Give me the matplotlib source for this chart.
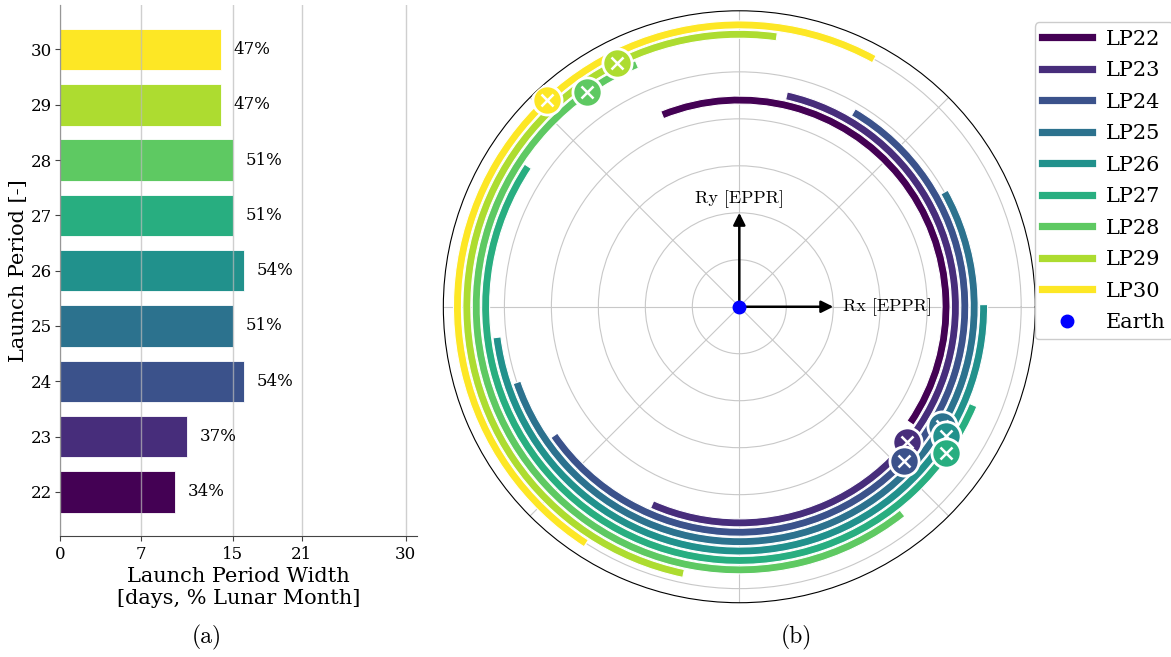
import numpy as np
import matplotlib
matplotlib.use("Agg")
import matplotlib.pyplot as plt
from matplotlib.lines import Line2D

# ==========================================
# DATA
# ==========================================
launch_periods = [22, 23, 24, 25, 26, 27, 28, 29, 30]
lp_width_days = [10, 11, 16, 15, 16, 15, 15, 14, 14]
lunar_month = 29.53
x_ticks = [0, 7, 15, 21, 30]

# polar arcs (degrees, counter-clockwise from start to end)
arc_radius = [4.4, 4.6, 4.8, 5.0, 5.2, 5.4, 5.6, 5.8, 6.0]
arc_start_deg = [-34.2, -113.8, -145.2, -161.2, -172.8, 146.4, 112.9, 82.1, 61.4]
arc_end_deg = [111.9, 77.4, 59.6, 29.2, 0.5, 337.2, 308.3, 258.2, 237.1]
marker_deg = [None, -38.9, -43.1, -30.5, -32.0, -35.3, 125.3, 116.7, 132.9]

colors = plt.cm.viridis(np.linspace(0, 1, len(launch_periods)))

plt.rcParams['font.family'] = 'DejaVu Serif'

fig = plt.figure(figsize=(11.71, 6.57), dpi=100)

# ==========================================
# (a) BAR CHART
# ==========================================
ax1 = fig.add_axes([0.0512, 0.184, 0.305, 0.808])
ax1.barh(launch_periods, lp_width_days, height=0.75, color=colors,
         edgecolor='white', linewidth=0.6)
for lp, d in zip(launch_periods, lp_width_days):
    ax1.text(d + 1.1, lp, f"{round(100 * d / lunar_month)}%",
             ha='left', va='center', fontsize=12)
ax1.set_xlim(0, 31)
ax1.set_ylim(21.2, 30.8)
ax1.set_xticks(x_ticks)
ax1.set_yticks(launch_periods)
ax1.tick_params(labelsize=12, color='#444444')
ax1.tick_params(axis='y', pad=2)
ax1.grid(axis='x', color='#bbbbbb', alpha=0.7, lw=1)
ax1.set_axisbelow(False)
for s in ['top', 'right']:
    ax1.spines[s].set_visible(False)
for s in ['left', 'bottom']:
    ax1.spines[s].set_color('#444444')
ax1.set_xlabel('Launch Period Width\n[days, % Lunar Month]', fontsize=15, labelpad=3)
ax1.set_ylabel('Launch Period [-]', fontsize=15, labelpad=2)

# ==========================================
# (b) POLAR PLOT
# ==========================================
ax2 = fig.add_axes([0.3786, 0.0826, 0.5055, 0.901], projection='polar')
ax2.set_rlim(0, 6.3)
ax2.set_rticks([1, 2, 3, 4, 5, 6])
ax2.set_yticklabels([])
ax2.set_xticklabels([])
ax2.grid(color='#c8c8c8', lw=0.8)
ax2.set_axisbelow(True)
ax2.spines['polar'].set_linewidth(0.8)

for i, (r, a0, a1) in enumerate(zip(arc_radius, arc_start_deg, arc_end_deg)):
    mid = np.radians((a0 + a1) / 2)
    span = np.radians(a1 - a0)
    ax2.bar(mid, 0.17, width=span, bottom=r - 0.085, color=colors[i],
            edgecolor='white', linewidth=0.8, zorder=2)

for i, (r, m) in enumerate(zip(arc_radius, marker_deg)):
    if m is None:
        continue
    th = np.radians(m)
    ax2.plot(th, r, 'o', ms=21, mfc=colors[i], mec='white', mew=2, zorder=10 + 2 * i)
    ax2.plot(th, r, 'x', color='white', ms=9, mew=1.8, zorder=11 + 2 * i)

arrow_kw = dict(arrowstyle='-|>', color='black', lw=1.8, mutation_scale=18,
                shrinkA=0, shrinkB=0)
ax2.annotate('', xy=(0, 2.0), xytext=(0, 0), arrowprops=arrow_kw, zorder=5)
ax2.annotate('', xy=(np.pi / 2, 2.0), xytext=(0, 0), arrowprops=arrow_kw, zorder=5)
ax2.text(np.pi / 2, 2.29, 'Ry [EPPR]', ha='center', va='center', fontsize=13, family='cmr10')
ax2.text(0, 2.2, 'Rx [EPPR]', ha='left', va='center', fontsize=13, family='cmr10')
ax2.plot(0, 0, 'o', color='blue', ms=9, zorder=6)

handles = [Line2D([], [], color=c, lw=5.2, label=f"LP{lp}")
           for c, lp in zip(colors, launch_periods)]
handles.append(Line2D([], [], ls='none', marker='o', color='blue', ms=9, label='Earth'))
fig.legend(handles=handles, loc='upper left', bbox_to_anchor=(0.884, 0.966),
           fontsize=15, handlelength=2.4, handletextpad=0.65, borderpad=0.35,
           labelspacing=0.6, framealpha=1, edgecolor='#cccccc', borderaxespad=0)

fig.text(0.1768, 0.0304, '(a)', ha='center', va='center', fontsize=17, family='cmr10')
fig.text(0.6798, 0.0304, '(b)', ha='center', va='center', fontsize=17, family='cmr10')

fig.savefig('out.png', dpi=100)
